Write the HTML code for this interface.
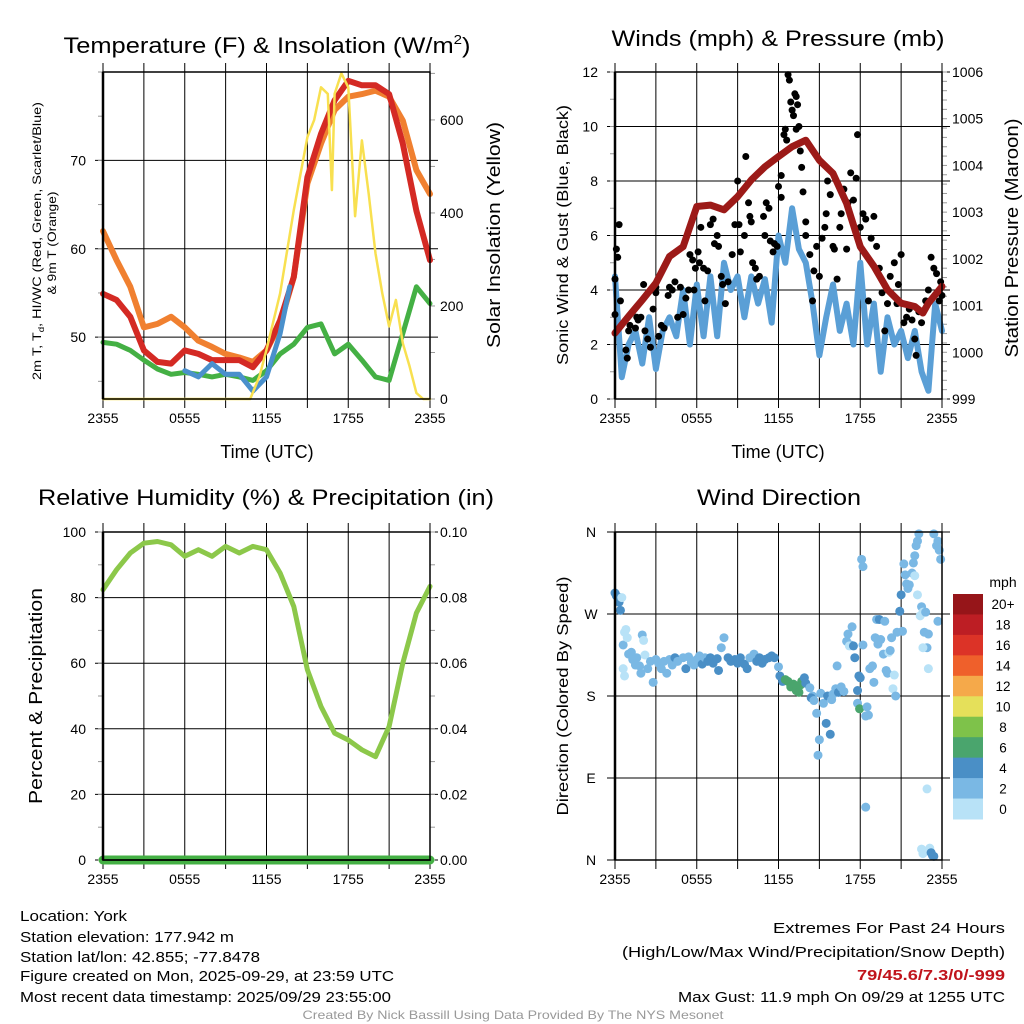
<!DOCTYPE html>
<html><head><meta charset="utf-8"><style>
html,body{margin:0;padding:0;background:#fff;}
svg{display:block;font-family:"Liberation Sans",sans-serif;}
</style></head><body>
<svg id="fig" xmlns="http://www.w3.org/2000/svg" width="1024" height="1024" viewBox="0 0 1024 1024">
<rect width="1024" height="1024" fill="#fff"/>
<g id="g1"></g>
<g id="g2"></g>
<g id="g3"></g>
<g id="g4"></g>
<g font-size="22" text-anchor="middle">
<text x="267" y="53" textLength="407" lengthAdjust="spacingAndGlyphs">Temperature (F) &amp; Insolation (W/m<tspan font-size="13" dy="-9">2</tspan><tspan dy="9">)</tspan></text>
<text x="778" y="46" textLength="333" lengthAdjust="spacingAndGlyphs">Winds (mph) &amp; Pressure (mb)</text>
<text x="266" y="505" textLength="456" lengthAdjust="spacingAndGlyphs">Relative Humidity (%) &amp; Precipitation (in)</text>
<text x="779" y="505" textLength="164" lengthAdjust="spacingAndGlyphs">Wind Direction</text>
</g>
<g font-size="18" text-anchor="middle">
<text x="267" y="458">Time (UTC)</text>
<text x="778" y="458">Time (UTC)</text>
<text transform="translate(500,235) rotate(-90)" textLength="226" lengthAdjust="spacingAndGlyphs">Solar Insolation (Yellow)</text>
<text transform="translate(568,235) rotate(-90)" font-size="16" textLength="260" lengthAdjust="spacingAndGlyphs">Sonic Wind &amp; Gust (Blue, Black)</text>
<text transform="translate(1018,238) rotate(-90)" textLength="239" lengthAdjust="spacingAndGlyphs">Station Pressure (Maroon)</text>
<text transform="translate(42,696) rotate(-90)" textLength="216" lengthAdjust="spacingAndGlyphs">Percent &amp; Precipitation</text>
<text transform="translate(568,696) rotate(-90)" font-size="16" textLength="239" lengthAdjust="spacingAndGlyphs">Direction (Colored By Speed)</text>
<text transform="translate(41,241) rotate(-90)" font-size="12" textLength="278" lengthAdjust="spacingAndGlyphs">2m T, T<tspan font-size="8" dy="3">d</tspan><tspan dy="-3">, HI/WC (Red, Green, Scarlet/Blue)</tspan></text>
<text transform="translate(56,243) rotate(-90)" font-size="12" textLength="103" lengthAdjust="spacingAndGlyphs">&amp; 9m T (Orange)</text>
</g>
<g font-size="15">
<text x="20" y="921" textLength="107" lengthAdjust="spacingAndGlyphs">Location: York</text>
<text x="20" y="942" textLength="214" lengthAdjust="spacingAndGlyphs">Station elevation: 177.942 m</text>
<text x="20" y="962" textLength="240" lengthAdjust="spacingAndGlyphs">Station lat/lon: 42.855; -77.8478</text>
<text x="20" y="981" textLength="374" lengthAdjust="spacingAndGlyphs">Figure created on Mon, 2025-09-29, at 23:59 UTC</text>
<text x="20" y="1002" textLength="371" lengthAdjust="spacingAndGlyphs">Most recent data timestamp: 2025/09/29 23:55:00</text>
</g>
<g font-size="15" text-anchor="end">
<text x="1005" y="933" textLength="232" lengthAdjust="spacingAndGlyphs">Extremes For Past 24 Hours</text>
<text x="1005" y="957" textLength="383" lengthAdjust="spacingAndGlyphs">(High/Low/Max Wind/Precipitation/Snow Depth)</text>
<text x="1005" y="980" fill="#c0141c" font-weight="bold" textLength="148" lengthAdjust="spacingAndGlyphs">79/45.6/7.3/0/-999</text>
<text x="1005" y="1002" textLength="327" lengthAdjust="spacingAndGlyphs">Max Gust: 11.9 mph On 09/29 at 1255 UTC</text>
</g>
<text x="513" y="1019" font-size="12" fill="#999" text-anchor="middle" textLength="421" lengthAdjust="spacingAndGlyphs">Created By Nick Bassill Using Data Provided By The NYS Mesonet</text>
</svg>
<script>
// ---------- data ----------
const xTickLabels = ["2355","0555","1155","1755","2355"];
const hours = [0,1,2,3,4,5,6,7,8,9,10,11,12,13,14,15,16,17,18,19,20,21,22,23,24];
const tempRed = [54.9,54.2,52.3,48.5,47.2,47.0,48.5,48.1,47.4,47.4,47.4,46.6,48.5,51.9,56.8,68.1,73.0,76.8,79.0,78.5,78.5,77.5,71.9,64.3,58.7];
const tempOrange = [62.0,58.7,55.7,51.1,51.5,52.3,51.1,49.6,48.9,48.1,47.7,47.2,48.5,51.5,56.8,67.4,71.9,75.7,77.2,77.5,77.9,77.2,74.5,68.9,66.2];
const dewGreen = [49.4,49.2,48.5,47.4,46.4,45.8,46.0,45.8,45.5,45.8,45.5,45.1,46.2,48.1,49.2,51.1,51.5,48.1,49.2,47.4,45.5,45.1,50.4,55.7,53.8];
const hiwcHours = [6,7,8,9,10,11,12,13,13.7];
const hiwcBlue = [46.2,45.5,47.0,45.8,45.8,43.9,45.5,50.4,55.7];
const solarHours = [0,10.5,10.8,11.5,12,13,14,15,15.5,16,16.5,16.8,17,17.5,18,18.5,19,19.5,20,20.5,21,21.5,22,22.5,23,23.5,24];
const solarVals = [0,0,0,50,106,227,406,563,600,670,656,449,656,700,670,393,556,441,313,227,156,213,120,70,13,0,0];
const windHours = [0,0.5,1,1.5,2,2.5,3,3.5,4,4.5,5,5.5,6,6.5,7,7.5,8,8.5,9,9.5,10,10.5,11,11.5,12,12.5,13,13.5,14,14.5,15,15.5,16,16.5,17,17.5,18,18.5,19,19.5,20,20.5,21,21.5,22,22.5,23,23.5,24];
const windSpeed = [4.5,0.8,2.0,2.5,1.3,3.0,1.1,2.5,3.0,2.3,4.0,2.0,4.2,2.3,4.5,2.3,5.0,4.0,4.5,3.0,4.5,3.5,4.4,2.8,6.0,5.0,7.0,5.5,5.0,3.5,1.6,3.0,4.2,2.5,3.5,2.0,5.0,2.0,3.5,1.0,3.0,2.0,2.5,1.5,2.5,1.0,0.3,3.5,2.5];
const pressHours = [0,1,2,3,4,5,6,7,8,9,10,11,12,13,14,15,16,17,18,19,20,21,22,22.6,23,24];
const pressure = [1000.41,1000.77,1001.12,1001.48,1002.05,1002.26,1003.12,1003.15,1003.05,1003.33,1003.69,1003.97,1004.19,1004.40,1004.54,1004.11,1003.83,1003.19,1002.26,1001.84,1001.34,1001.05,1000.98,1000.84,1001.05,1001.41];
const gustHours = [0,0,0.1,0.2,0.3,0.4,0.8,0.9,1.0,1.1,1.3,1.5,1.6,1.7,1.9,2.1,2.2,2.4,2.6,2.8,3.0,3.0,3.2,3.4,3.6,3.9,4.0,4.2,4.4,4.6,4.8,5.0,5.2,5.4,5.5,5.7,5.8,5.9,6.1,6.2,6.3,6.5,6.6,6.8,7.0,7.2,7.3,7.5,7.6,7.8,7.9,8.1,8.3,8.6,8.8,9.0,9.1,9.2,9.5,9.6,9.8,9.9,10.0,10.1,10.3,10.4,10.6,10.9,11.0,11.1,11.3,11.4,11.6,11.7,11.9,12.0,12.2,12.2,12.4,12.5,12.6,12.7,12.8,12.9,13.0,13.1,13.2,13.3,13.4,13.3,13.5,13.6,13.7,13.8,14.0,14.0,14.3,14.5,14.6,14.8,15.0,15.2,15.4,15.5,15.6,15.8,16.0,16.1,16.3,16.5,16.6,16.8,17.0,17.1,17.3,17.5,17.7,17.8,18.0,18.2,18.4,18.6,18.8,19.0,19.2,19.4,19.6,19.8,20.0,20.2,20.5,20.7,20.8,21.0,21.2,21.4,21.6,21.8,22.0,22.1,22.3,22.5,22.8,23.0,23.2,23.4,23.6,23.8,23.9,24.0];
const gustSpeed = [4.4,3.1,5.5,5.2,6.4,3.6,1.8,1.5,2.5,2.7,3.2,2.6,3.0,2.9,3.0,4.2,2.5,2.2,1.9,3.3,4.1,3.9,2.3,2.7,2.6,3.8,4.1,4.0,4.3,3.0,4.1,3.1,3.7,4.0,5.3,5.1,4.0,4.8,5.4,5.0,6.3,4.8,3.6,4.7,6.4,6.6,5.7,6.0,5.6,4.5,4.2,3.5,4.3,5.3,6.4,8.0,6.4,5.4,6.0,8.9,7.2,6.7,6.5,5.0,4.8,4.4,4.5,6.7,6.0,7.2,7.0,5.8,5.4,5.7,5.6,7.8,7.4,8.2,9.7,9.9,9.5,11.9,11.7,10.9,10.6,10.4,11.2,11.1,10.8,9.9,10.0,9.1,8.5,7.6,6.5,6.0,5.3,3.6,4.7,5.6,4.5,5.9,6.3,6.8,8.0,7.5,5.6,5.5,4.4,6.3,6.8,7.7,5.5,7.2,8.3,7.3,8.1,9.7,6.3,6.8,6.6,3.6,5.9,6.7,5.6,4.8,3.9,2.5,3.5,4.5,5.0,3.5,4.2,5.3,2.8,3.0,3.3,2.9,2.2,1.6,3.2,2.8,3.6,4.0,5.2,4.8,4.6,3.6,4.3,3.8];
const rhVals = [82.4,88.5,93.6,96.6,97.1,96.1,92.6,94.6,92.6,95.6,93.6,95.6,94.6,87.5,77.3,58.0,46.8,38.7,36.6,33.6,31.5,40.7,60.0,75.3,83.4];
const precipVals = [0,0,0,0,0,0,0,0,0,0,0,0,0,0,0,0,0,0,0,0,0,0,0,0,0];
const dirHours = [0,0.1,0.2,0.3,0.4,0.5,0.6,0.7,0.8,0.9,0.6,0.7,1.0,1.2,1.3,1.5,1.6,1.8,1.9,2.0,2.1,2.2,2.4,2.6,2.8,3.0,3.2,3.4,3.6,3.8,4.0,4.2,4.4,4.6,5.0,5.2,5.4,5.6,5.8,6.0,6.2,6.4,6.6,6.8,7.0,7.2,7.5,7.6,7.8,8.0,8.3,8.5,8.8,9.0,9.2,9.5,9.7,9.9,10.2,10.4,10.6,10.8,11.0,11.3,11.5,11.7,12.0,12.1,12.3,12.5,12.7,12.9,13.1,13.3,13.5,13.6,13.7,13.9,14.0,14.3,14.5,14.4,14.6,14.8,15.0,14.9,15.1,15.3,15.5,15.6,15.8,15.9,16.0,16.2,16.3,16.4,16.6,16.8,17.0,17.1,17.3,17.4,17.2,17.5,17.6,17.8,17.9,17.8,18.0,17.95,18.2,18.1,18.2,18.4,18.5,18.6,18.7,18.9,19.0,19.1,19.2,19.4,19.3,19.5,19.7,19.8,19.9,20.0,20.1,20.2,20.3,20.4,20.5,20.6,20.7,20.9,21.0,21.1,21.2,21.3,21.4,21.5,21.6,21.8,21.9,22.0,22.1,22.2,22.3,22.0,22.2,22.4,22.5,22.6,22.8,22.7,22.9,23.0,23.0,22.6,22.5,22.6,23.1,23.2,23.3,23.4,23.4,23.6,23.7,23.8,23.9,23.7,22.9,18.4];
const dirDeg = [293,290,289,283,274,288,236,250,253,244,210,202,226,228,220,214,222,213,205,247,241,225,210,218,195,220,216,210,218,205,220,214,222,218,222,210,223,217,214,220,224,215,222,218,222,216,221,208,233,244,222,218,220,216,222,215,210,222,226,218,222,216,220,222,224,222,212,202,196,198,196,190,193,186,184,192,196,200,194,189,180,178,175,161,132,115,183,172,150,180,138,176,182,188,213,184,190,185,240,248,236,256,235,235,222,172,202,186,200,166,236,330,322,158,168,159,210,213,195,244,264,264,237,242,226,262,208,205,228,230,244,188,203,180,250,273,291,251,325,313,303,298,302,315,326,334,345,350,358,312,291,268,278,272,272,250,233,248,210,233,12,7,13,8,5,4,358,345,350,340,330,262,78,58];
const dirSpeed = [5,5,5,5,5,1,3,1,1,1,1,1,3,3,3,3,3,3,3,3,1,1,3,3,3,3,3,3,3,3,3,3,5,3,3,5,3,3,3,3,3,5,3,5,5,5,5,5,3,3,5,5,5,5,5,5,5,3,3,5,5,5,5,5,5,5,3,5,5,7,7,7,7,7,7,7,7,5,5,3,3,5,3,3,3,3,3,3,5,5,5,3,3,3,3,5,3,3,3,3,3,3,1,5,5,3,5,5,5,7,3,3,3,3,3,3,3,3,3,3,3,5,3,3,3,3,3,3,1,3,3,1,1,3,3,5,5,3,3,3,3,3,3,3,3,3,3,3,3,1,1,1,3,1,3,3,3,3,1,1,1,1,1,5,5,5,3,3,3,3,3,3,1,3];
const speedBinLabels = ["20+","18","16","14","12","10","8","6","4","2","0"];
const speedColors = ["#b8e2f7","#7ab8e4","#4a8fc6","#4aa56d","#7ec24a","#e5e05a","#f5a94a","#ef602b","#dc3327","#bd1e24","#961519"];
const tempTicks = [50,60,70];
const solarTicks = [0,200,400,600];
const windTicks = [0,2,4,6,8,10,12];
const pressTicks = [999,1000,1001,1002,1003,1004,1005,1006];
const rhTicks = [0,20,40,60,80,100];
const precipTicks = [0,0.02,0.04,0.06,0.08,0.10];
const dirTicks = [0,90,180,270,360];
const dirTickLabels = ["N","E","S","W","N"];

// ---------- helpers ----------
const NS = "http://www.w3.org/2000/svg";
function mk(tag, attrs, parent){ const e=document.createElementNS(NS,tag); for(const k in attrs) e.setAttribute(k,attrs[k]); parent.appendChild(e); return e; }
function lin(d0,d1,r0,r1){ return v => r0 + (v-d0)/(d1-d0)*(r1-r0); }
function pathFrom(xs, ys, fx, fy){ let d=""; for(let i=0;i<xs.length;i++){ if(ys[i]==null) continue; d += (d?"L":"M")+fx(xs[i]).toFixed(1)+","+fy(ys[i]).toFixed(1); } return d; }

function frame(g, P, name){
  const fx = lin(0,24,P.l,P.r);
  for(let h=0;h<=24;h+=3){
    const x=fx(h);
    const ln = mk("line",{x1:x,x2:x,y1:P.t-9,y2:P.b+9,stroke:"#000","stroke-width":1},g);
    
    
  }
  xTickLabels.forEach((lab,i)=>{
    const t = mk("text",{x:fx(i*6),y:P.b+24,"font-size":14,"text-anchor":"middle"},g);
    
    
    t.textContent = lab;
  });
  return fx;
}
function yAxis(g, P, ticks, labels, fy, side, name, grid, minorStep, dmin, dmax){
  ticks.forEach((v,i)=>{
    const y=fy(v);
    if(grid){ const gl=mk("line",{x1:P.l-8,x2:P.r+8,y1:y,y2:y,stroke:"#000","stroke-width":1},g);
      
       }
    const t = mk("text",{x: side==="left"? P.l-17 : P.r+10, y:y+5,"font-size":14,"text-anchor": side==="left"?"end":"start"},g);
    
    
    t.textContent = labels[i];
  });
  if(minorStep){
    for(let v=dmin; v<=dmax+1e-9; v+=minorStep){
      const y=fy(v); const x = side==="left"?P.l:P.r;
      const m=mk("line",{x1:x, x2: side==="left"? x-5 : x+5, y1:y,y2:y,stroke:"#999","stroke-width":1},g);
      
      
    }
  }
}
function border(g,P,name){
  const r=mk("rect",{x:P.l,y:P.t,width:P.r-P.l,height:P.b-P.t,fill:"none",stroke:"#000","stroke-width":1.5},g);
  
  
  const la=mk("line",{x1:P.l,x2:P.l,y1:P.t,y2:P.b,stroke:"#000","stroke-width":2.5},g);
  
  
}
function line(g,d,color,w,name){
  const p=mk("path",{d:d,fill:"none",stroke:color,"stroke-width":w,"stroke-linejoin":"round","stroke-linecap":"round"},g);
  
  
  return p;
}

// ---------- panel 1 ----------
(function(){
  const g=document.getElementById("g1"); const P={l:103,r:430,t:72,b:399};
  const fx=frame(g,P,"temp");
  const fy=lin(43,80,P.b,P.t), fs=lin(0,703,P.b,P.t);
  yAxis(g,P,tempTicks,tempTicks.map(String),fy,"left","temp-y",true,5,45,80);
  yAxis(g,P,solarTicks,solarTicks.map(String),fs,"right","solar-y",false,100,0,700);
  line(g,pathFrom(hours,dewGreen,fx,fy),"#44b044",5,"dewpoint-line");
  line(g,pathFrom(hours,tempOrange,fx,fy),"#f08030",6,"temp-9m-line");
  line(g,pathFrom(hours,tempRed,fx,fy),"#d42a24",6,"temp-2m-line");
  line(g,pathFrom(hiwcHours,hiwcBlue,fx,fy),"#4a90cc",5,"heat-index-line");
  line(g,pathFrom(solarHours,solarVals,fx,fs),"#f8e050",2.5,"solar-line");
  border(g,P,"temp");
})();

// ---------- panel 2 ----------
(function(){
  const g=document.getElementById("g2"); const P={l:615,r:942,t:72,b:399};
  const fx=frame(g,P,"wind");
  const fy=lin(0,12,P.b,P.t), fp=lin(999,1006,P.b,P.t);
  yAxis(g,P,windTicks,windTicks.map(String),fy,"left","wind-y",true,1,0,12);
  yAxis(g,P,pressTicks,pressTicks.map(String),fp,"right","press-y",false,0.2,999,1006);
  line(g,pathFrom(windHours,windSpeed,fx,fy),"#5a9fd6",6,"wind-speed-line");
  gustHours.forEach((h,i)=>{
    const c=mk("circle",{cx:fx(h),cy:fy(gustSpeed[i]),r:3.5,fill:"#000"},g);
    
    
  });
  line(g,pathFrom(pressHours,pressure,fx,fp),"#9c1a18",7,"pressure-line");
  border(g,P,"wind");
})();

// ---------- panel 3 ----------
(function(){
  const g=document.getElementById("g3"); const P={l:103,r:430,t:532,b:860};
  const fx=frame(g,P,"rh");
  const fy=lin(0,100,P.b,P.t), fq=lin(0,0.1,P.b,P.t);
  yAxis(g,P,rhTicks,rhTicks.map(String),fy,"left","rh-y",true,10,0,100);
  yAxis(g,P,precipTicks,precipTicks.map(v=>v.toFixed(2)),fq,"right","precip-y",false,0.01,0,0.1);
  line(g,pathFrom(hours,rhVals,fx,fy),"#8cc84a",5,"humidity-line");
  line(g,pathFrom(hours,precipVals,fx,fq),"#44b044",9,"precip-line");
  border(g,P,"rh");
  line(g,pathFrom(hours,precipVals,fx,fq),"#000",1.5,"precip-baseline");
})();

// ---------- panel 4 ----------
(function(){
  const g=document.getElementById("g4"); const P={l:615,r:942,t:532,b:860};
  const fx=frame(g,P,"dir");
  const fy=lin(0,360,P.b,P.t);
  dirTicks.forEach((v,i)=>{
    const y=fy(v);
    const gl=mk("line",{x1:P.l-8,x2:P.r+8,y1:y,y2:y,stroke:"#000","stroke-width":1},g);
    
    
    const t=mk("text",{x:591,y:y+5,"font-size":14,"text-anchor":"middle"},g);
    
    
    t.textContent=dirTickLabels[i];
  });
  dirHours.forEach((h,i)=>{
    const bin=Math.min(10,Math.floor(dirSpeed[i]/2));
    const c=mk("circle",{cx:fx(h),cy:fy(dirDeg[i]),r:4.5,fill:speedColors[bin]},g);
    
    
  });
  border(g,P,"dir");
  const cb=mk("g",{},g);
  
  
  const top=594, bot=819, h=(bot-top)/11;
  for(let k=0;k<11;k++){
    const r=mk("rect",{x:953,y:top+k*h,width:30,height:h+0.5,fill:speedColors[10-k]},cb);
    
    
  }
  speedBinLabels.forEach((lab,k)=>{
    const t=mk("text",{x:1003,y:top+(k+0.5)*h+5,"font-size":13.5,"text-anchor":"middle"},cb);
    
    
    t.textContent=lab;
  });
  const u=mk("text",{x:1003,y:587,"font-size":14,"text-anchor":"middle"},cb);
  
  
  u.textContent="mph";
})();
</script>
</body></html>
